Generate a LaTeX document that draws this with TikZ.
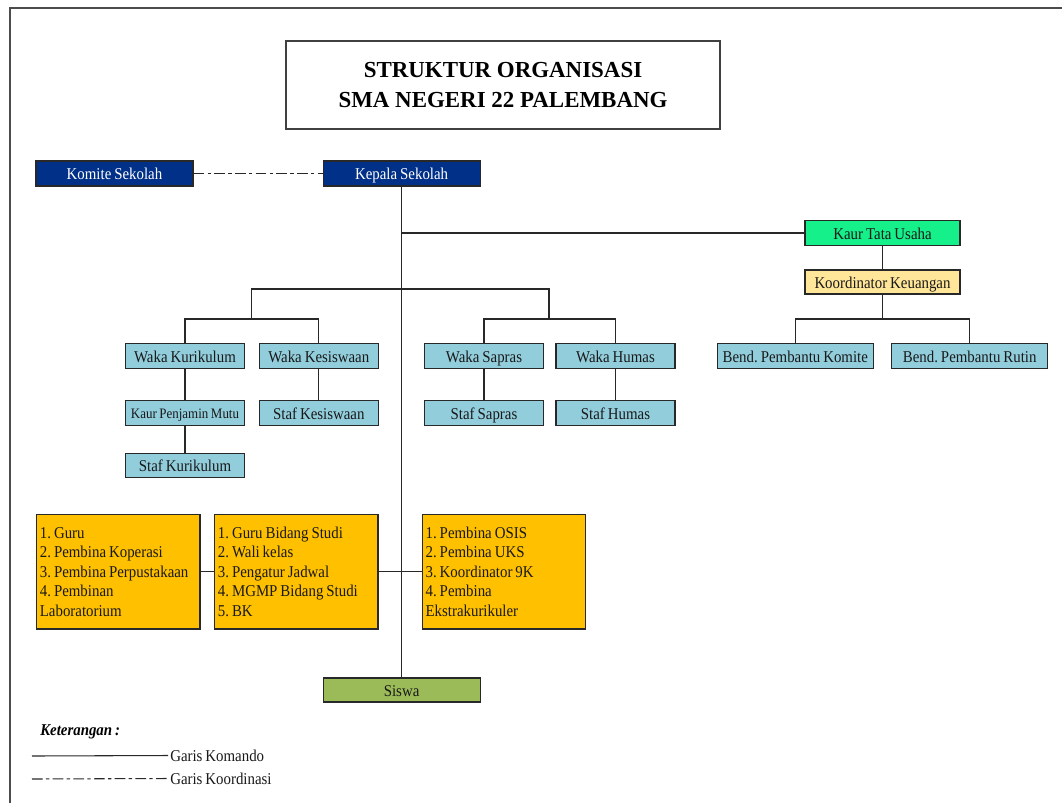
\documentclass[tikz,border=0pt]{standalone}
\usepackage{fontspec}
\setmainfont{Liberation Serif}
\newfontfamily\nf[FakeStretch=0.9,WordSpace=0.8]{Liberation Serif}
\frenchspacing
\newcommand\tightsp{\spaceskip=\fontdimen2\font\relax}
\definecolor{dkblue}{RGB}{0,48,135}
\definecolor{ltblue}{RGB}{146,205,220}
\definecolor{tugreen}{RGB}{22,240,138}
\definecolor{ltorange}{RGB}{255,230,153}
\definecolor{gold}{RGB}{255,192,0}
\definecolor{olive}{RGB}{155,187,89}
\definecolor{edge}{RGB}{40,40,40}
\tikzset{
  bx/.style={draw=edge, line width=0.9pt, inner sep=0pt, minimum height=18.75pt, text height=9.9pt, text depth=0.5pt, font=\nf\fontsize{12.4}{14}\selectfont, text=black!90},
  dk/.style={bx, fill=dkblue, text=white, minimum width=117.75pt},
  wk/.style={bx, fill=ltblue, minimum width=89.25pt, minimum height=18.2pt},
  bd/.style={bx, fill=ltblue, minimum width=117pt},
  yl/.style={draw=edge, line width=0.9pt, fill=gold, minimum width=122.6pt, minimum height=85.7pt, inner xsep=2.5pt, inner ysep=0pt, text width=117.6pt, align=left, font=\nf\fontsize{12.4}{14.6}\selectfont, text=black!90},
  ln/.style={draw=edge, line width=0.8pt},
  koor/.style={draw=edge, line width=0.8pt, dash pattern=on 8pt off 2.5pt on 2.5pt off 2.5pt},
  lbl/.style={inner sep=1.5pt, font=\nf\fontsize{12.4}{14}\selectfont, text=black!90}
}
\begin{document}
\begin{tikzpicture}[x=0.75pt,y=-0.75pt]
\useasboundingbox (0,0) rectangle (1062,803);
\fill[white] (0,0) rectangle (1062,803);
% outer frame
\draw[draw=black!70, line width=0.8pt] (10,803) -- (10,8) -- (1062,8);
% title
\node[draw=black!75, line width=0.8pt, minimum width=325.5pt, minimum height=66pt, align=center, font=\fontsize{17.2}{22.2}\selectfont\bfseries] (title) at (503,85) {STRUKTUR ORGANISASI\\SMA NEGERI 22 PALEMBANG};
% top
\node[dk] (komite) at (114.5,173.5) {Komite Sekolah};
\node[dk] (kepala) at (401.6,173.5) {Kepala Sekolah};
% tata usaha
\node[bx, fill=tugreen, minimum width=116.25pt] (kaurtu) at (882.5,233) {Kaur Tata Usaha};
\node[bx, fill=ltorange, minimum width=116.25pt, minimum height=18pt] (koord) at (882.5,282) {Koordinator Keuangan};
\node[bd] (bendkom) at (795.3,355.8) {Bend. Pembantu Komite};
\node[bd] (bendrut) at (969.7,355.8) {Bend. Pembantu Rutin};
% waka
\node[wk] (wakakur) at (185,356) {Waka Kurikulum};
\node[wk] (wakakes) at (318.8,356) {Waka Kesiswaan};
\node[wk] (wakasap) at (484,356) {Waka Sapras};
\node[wk] (wakahum) at (615.5,356) {Waka Humas};
\node[wk, font=\nf\fontsize{10.8}{12}\selectfont, text height=8.6pt, text depth=0.5pt] (kaurpm) at (185,413) {Kaur Penjamin Mutu};
\node[wk] (stafkur) at (185,465.5) {Staf Kurikulum};
\node[wk] (stafkes) at (318.8,413) {Staf Kesiswaan};
\node[wk] (stafsap) at (484,413) {Staf Sapras};
\node[wk] (stafhum) at (615.5,413) {Staf Humas};
% yellow boxes
\node[yl] (y1) at (118.3,571.8) {\tightsp 1. Guru\\2. Pembina Koperasi\\3. Pembina Perpustakaan\\4. Pembinan\\Laboratorium};
\node[yl] (y2) at (296.3,571.8) {\tightsp 1. Guru Bidang Studi\\2. Wali kelas\\3. Pengatur Jadwal\\4. MGMP Bidang Studi\\5. BK};
\node[yl] (y3) at (504,571.8) {\tightsp 1. Pembina OSIS\\2. Pembina UKS\\3. Koordinator 9K\\4. Pembina\\Ekstrakurikuler};
% siswa
\node[bx, fill=olive, minimum width=117.75pt, minimum height=18pt] (siswa) at (401.6,690) {Siswa};
% branch coordinates
\coordinate (lt) at (251.7,289);
\coordinate (rt) at (549,289);
\coordinate (lm) at (251.7,319);
\coordinate (rm) at (549,319);
\coordinate (km) at (882.5,319);
% connectors
\draw[koor] (komite.east) -- (kepala.west);
\draw[ln] (kepala.south) -- (siswa.north);
\draw[ln] (kepala.south |- kaurtu.west) -- (kaurtu.west);
\draw[ln] (lm) -- (lt) -- (rt) -- (rm);
\draw[ln] (wakakur.north) |- (lm) -| (wakakes.north);
\draw[ln] (wakasap.north) |- (rm) -| (wakahum.north);
\draw[ln] (wakakur) -- (kaurpm);
\draw[ln] (kaurpm) -- (stafkur);
\draw[ln] (wakakes) -- (stafkes);
\draw[ln] (wakasap) -- (stafsap);
\draw[ln] (wakahum) -- (stafhum);
\draw[ln] (kaurtu) -- (koord);
\draw[ln] (koord.south) -- (km);
\draw[ln] (bendkom.north) |- (km) -| (bendrut.north);
\draw[ln] (y1.east) -- (y2.west);
\draw[ln] (y2.east) -- (y3.west);
% legend
\node[anchor=west, inner sep=0pt, font=\nf\fontsize{12.4}{13}\selectfont\bfseries\itshape] (ket) at (40,731.5) {Keterangan :};
\coordinate (la) at (32,756);
\coordinate (lb) at (32,779);
\node[lbl, anchor=west] (gk) at (168,755.5) {Garis Komando};
\node[lbl, anchor=west] (gko) at (168,778.5) {Garis Koordinasi};
\draw[ln] (la) -- (gk.west);
\draw[koor] (lb) -- (gko.west);
\end{tikzpicture}
\end{document}
